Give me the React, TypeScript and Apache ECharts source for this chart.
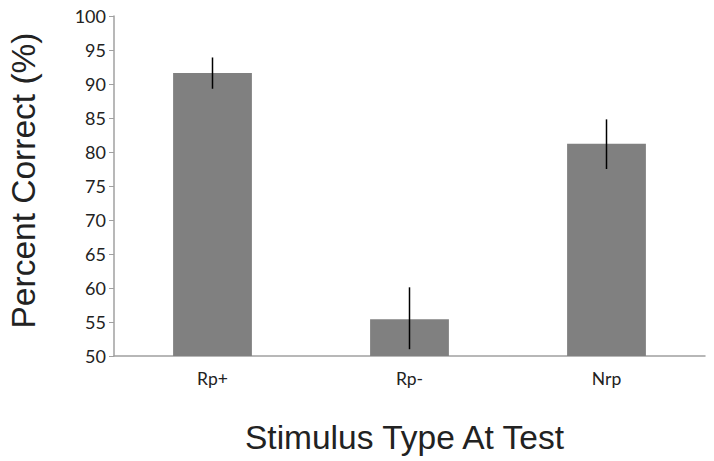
import React, { useEffect, useRef } from "react";
import * as echarts from "echarts";

const categories = ["Rp+", "Rp-", "Nrp"];
const means = [91.6, 55.4, 81.2];
const errLow = [89.3, 51.0, 77.5];
const errHigh = [93.9, 60.1, 84.8];
const yTicks = { min: 50, max: 100, interval: 5 };

export default function App() {
  const ref = useRef<HTMLDivElement>(null);
  useEffect(() => {
    const chart = echarts.init(ref.current!, null, { renderer: "svg" });
    chart.setOption({
      animation: false,
      backgroundColor: "#fff",
      grid: {
        left: 114,
        right: 9,
        top: 16,
        bottom: 105,
        containLabel: false,
        outerBoundsMode: "none",
      },
      xAxis: {
        type: "category",
        data: categories,
        name: "Stimulus Type At Test",
        nameLocation: "middle",
        nameGap: 64,
        nameTextStyle: {
          fontFamily: "Liberation Sans",
          fontSize: 33.5,
          color: "#222",
          padding: [0, 10, 0, 0],
        },
        axisLine: { lineStyle: { color: "#a0a0a0", width: 1.5 } },
        axisTick: { show: false },
        axisLabel: { fontFamily: "Lato", fontSize: 17.5, color: "#222", margin: 13 },
      },
      yAxis: {
        type: "value",
        min: yTicks.min,
        max: yTicks.max,
        interval: yTicks.interval,
        name: "Percent Correct (%)",
        nameLocation: "middle",
        nameGap: 74,
        nameTextStyle: {
          fontFamily: "Liberation Sans",
          fontSize: 33.5,
          color: "#222",
          padding: [0, 0, 0, 11],
        },
        axisLine: { show: true, lineStyle: { color: "#a0a0a0", width: 1.5 } },
        axisTick: { show: true, length: 5, lineStyle: { color: "#a0a0a0" } },
        splitLine: { show: false },
        axisLabel: { fontFamily: "Lato", fontSize: 18, color: "#222", margin: 8 },
      },
      series: [
        {
          type: "bar",
          data: means,
          barWidth: "40%",
          itemStyle: { color: "#808080" },
        },
        {
          type: "custom",
          data: categories.map((_, i) => [i, errLow[i], errHigh[i]]),
          renderItem: (params: any, api: any) => {
            const lo = api.coord([api.value(0), api.value(1)]);
            const hi = api.coord([api.value(0), api.value(2)]);
            return {
              type: "line",
              shape: { x1: lo[0], y1: lo[1], x2: hi[0], y2: hi[1] },
              style: { stroke: "#000", lineWidth: 1.5 },
            };
          },
          z: 10,
        },
      ],
    });
    return () => chart.dispose();
  }, []);
  return (
    <div
      ref={ref}
      style={{ position: "fixed", left: 0, top: 0, width: 714, height: 461 }}
    />
  );
}
